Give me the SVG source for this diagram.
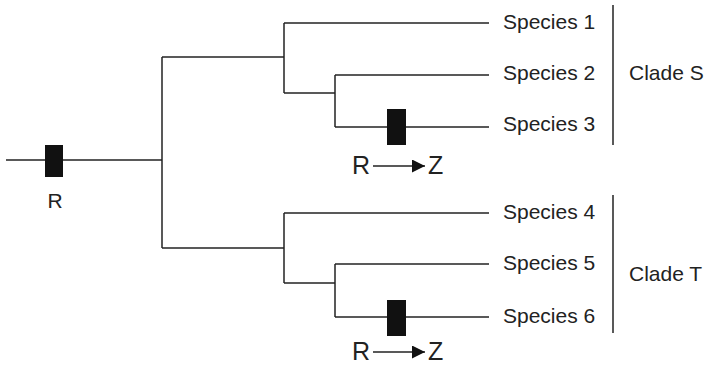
<svg xmlns="http://www.w3.org/2000/svg" width="710" height="367" viewBox="0 0 710 367">
  <defs>
    <style>
      .br { stroke: #222; stroke-width: 1.5; fill: none; }
      .bar { fill: #111; }
      .lbl { font-family: "Liberation Sans", Arial, sans-serif; font-size: 21px; fill: #222; }
      .big { font-family: "Liberation Sans", Arial, sans-serif; font-size: 25px; fill: #222; }
    </style>
    <marker id="ah" markerWidth="14" markerHeight="14" refX="13" refY="6.5" orient="auto" markerUnits="userSpaceOnUse">
      <path d="M0,0 L13,6.5 L0,13 Z" fill="#111"/>
    </marker>
  </defs>

  <rect width="710" height="367" fill="#fff"/>

  <!-- tree branches -->
  <g id="connectors">
    <path class="br" d="M6,160 H162"/>
    <path class="br" d="M162,57 V248"/>
    <path class="br" d="M162,57 H284"/>
    <path class="br" d="M162,248 H284"/>
    <!-- clade S -->
    <path class="br" d="M284,23 V93"/>
    <path class="br" d="M284,23 H489"/>
    <path class="br" d="M284,93 H335"/>
    <path class="br" d="M335,75 V127"/>
    <path class="br" d="M335,75 H489"/>
    <path class="br" d="M335,127 H489"/>
    <!-- clade T -->
    <path class="br" d="M284,213 V283"/>
    <path class="br" d="M284,213 H489"/>
    <path class="br" d="M284,283 H335"/>
    <path class="br" d="M335,264 V317"/>
    <path class="br" d="M335,264 H489"/>
    <path class="br" d="M335,317 H489"/>
  </g>

  <!-- character state markers -->
  <g id="root-state">
    <rect class="bar" x="45" y="145" width="18" height="32"/>
    <text class="lbl" x="55" y="208" text-anchor="middle">R</text>
  </g>
  <g id="change-S">
    <rect class="bar" x="387" y="109" width="19" height="36"/>
    <text class="big" x="352" y="174">R</text>
    <path class="br" d="M373,166 H425" marker-end="url(#ah)"/>
    <text class="big" x="428" y="174">Z</text>
  </g>
  <g id="change-T">
    <rect class="bar" x="387" y="300" width="19" height="36"/>
    <text class="big" x="352" y="360">R</text>
    <path class="br" d="M373,352 H425" marker-end="url(#ah)"/>
    <text class="big" x="428" y="360">Z</text>
  </g>

  <!-- species labels -->
  <g id="species-1"><text class="lbl" x="503" y="29">Species 1</text></g>
  <g id="species-2"><text class="lbl" x="503" y="80">Species 2</text></g>
  <g id="species-3"><text class="lbl" x="503" y="131">Species 3</text></g>
  <g id="species-4"><text class="lbl" x="503" y="219">Species 4</text></g>
  <g id="species-5"><text class="lbl" x="503" y="270">Species 5</text></g>
  <g id="species-6"><text class="lbl" x="503" y="323">Species 6</text></g>

  <!-- clade brackets -->
  <g id="clade-S">
    <path class="br" d="M613,5 V145"/>
    <text class="lbl" x="629" y="80">Clade S</text>
  </g>
  <g id="clade-T">
    <path class="br" d="M613,195 V333"/>
    <text class="lbl" x="629" y="281">Clade T</text>
  </g>
</svg>
